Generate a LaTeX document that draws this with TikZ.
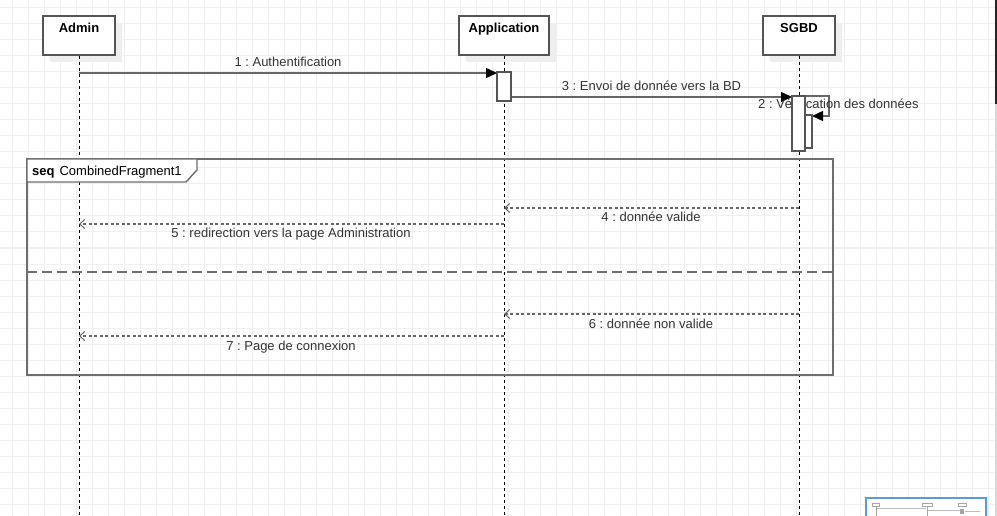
\documentclass[tikz,border=0pt]{standalone}
\usepackage{fontspec}
\setmainfont{Liberation Sans}
\usetikzlibrary{arrows.meta,calc}

\definecolor{gridc}{HTML}{EFEFEF}
\definecolor{linec}{HTML}{666666}
\definecolor{boxc}{HTML}{555555}
\definecolor{txtc}{HTML}{333333}
\definecolor{shadowc}{HTML}{EEEEEE}
\definecolor{fragc}{HTML}{6E6E6E}
\definecolor{mapc}{HTML}{5A9BE0}

\begin{document}
\frenchspacing
\begin{tikzpicture}[x=1pt,y=-1pt,
  font=\fontsize{13}{15}\selectfont,
  lifebox/.style={draw=boxc, line width=1.5pt, fill=white, minimum height=39pt, inner sep=0pt},
  lifeline/.style={black, line width=0.9pt, dash pattern=on 3pt off 3pt},
  actbox/.style={draw=boxc, line width=1.2pt, fill=white, inner sep=0pt},
  callmsg/.style={draw=linec, line width=1.4pt, -{Triangle[length=11pt,width=10pt,color=black,fill=black]}},
  retmsg/.style={draw=linec, line width=1.2pt, dash pattern=on 3pt off 2.5pt, -{Straight Barb[length=5pt,width=9pt,line width=1pt]}},
  msglbl/.style={text=txtc, anchor=base, inner sep=0pt},
  titlelbl/.style={text=black, font=\fontsize{13}{15}\selectfont\bfseries, anchor=base, inner sep=0pt},
  fragline/.style={draw=fragc, line width=1.8pt},
]
\useasboundingbox (0,0) rectangle (997,516);
\fill[white] (0,0) rectangle (997,516);

% background grid
\foreach \gx in {12,28,...,996} \draw[gridc, line width=1pt] (\gx,0) -- (\gx,516);
\foreach \gy in {8,24,...,516} \draw[gridc, line width=1pt] (0,\gy) -- (997,\gy);

% lifeline heads with their drop shadows
\foreach \nm/\cx/\hw in {admin/79/36, app/504/45, sgbd/799/36} {
  \fill[shadowc] (\cx-\hw+7,23) rectangle (\cx+\hw+7,62);
  \node[lifebox, minimum width=2*\hw pt] (\nm) at (\cx,35.5) {};
  \coordinate (\nm-end) at (\cx,516);
  \draw[lifeline] (\nm.south) -- (\nm-end);
}
\node[titlelbl] (tadmin) at (79,33) {Admin};
\node[titlelbl] (tapp) at (504,32.5) {Application};
\node[titlelbl] (tsgbd) at (799,33) {SGBD};

% combined fragment
\draw[fragline] (27,159) rectangle (833,375);
\draw[fragline, fill=white, line width=1.4pt] (27,159) -- (197,159) -- (197,170) -- (186,182) -- (27,182) -- cycle;
\node[anchor=base west, inner sep=0pt, text=black] (fragname) at (32,176) {\textbf{seq}\hspace{5pt}CombinedFragment1};
\coordinate (sepL) at (27,272);
\coordinate (sepR) at (833,272);
\draw[draw=fragc, line width=1.8pt, dash pattern=on 10pt off 5pt] (sepL) -- (sepR);

% message end points
\coordinate (m1a) at (79,73);   \coordinate (m1b) at (497,73);
\coordinate (m3a) at (511,97);  \coordinate (m3b) at (792,97);
\coordinate (m2a) at (805,96);  \coordinate (m2c1) at (829,96);
\coordinate (m2c2) at (829,116); \coordinate (m2b) at (812,116);
\coordinate (m4a) at (799,208); \coordinate (m4b) at (504,208);
\coordinate (m5a) at (504,224); \coordinate (m5b) at (79,224);
\coordinate (m6a) at (799,314); \coordinate (m6b) at (504,314);
\coordinate (m7a) at (504,336); \coordinate (m7b) at (79,336);

% messages
\draw[callmsg] (m1a) -- (m1b);
\draw[callmsg] (m3a) -- (m3b);
\draw[callmsg] (m2a) -- (m2c1) -- (m2c2) -- (m2b);
\draw[retmsg] (m4a) -- (m4b);
\draw[retmsg] (m5a) -- (m5b);
\draw[retmsg] (m6a) -- (m6b);
\draw[retmsg] (m7a) -- (m7b);

% message labels
\node[msglbl] (l1) at (288,66.5) {1 : Authentification};
\node[msglbl] (l3) at (651.5,90.5) {3 : Envoi de donnée vers la BD};
\node[msglbl, anchor=base west] (l2) at (758,109) {2 : Vérification des données};
\node[msglbl] (l4) at (651,222) {4 : donnée valide};
\node[msglbl] (l5) at (291,237) {5 : redirection vers la page Administration};
\node[msglbl] (l6) at (651,328.5) {6 : donnée non valide};
\node[msglbl] (l7) at (291,350) {7 : Page de connexion};

% activation bars
\node[actbox, minimum width=14pt, minimum height=29pt] (actapp) at (504,86.5) {};
\node[actbox, minimum width=13pt, minimum height=33pt] (actsgbd2) at (805.5,131.5) {};
\node[actbox, minimum width=13pt, minimum height=55pt] (actsgbd) at (798.5,123.5) {};

% overview pane and scroll bar
\fill[black!7] (868,500) rectangle (989,516);
\draw[mapc, line width=1.5pt, fill=white] (866,498) rectangle (986,518);
\draw[black!35, line width=0.5pt] (872,503) rectangle (879,506);
\draw[black!35, line width=0.5pt] (922,503) rectangle (932,506);
\draw[black!35, line width=0.5pt] (958,503) rectangle (966,506);
\draw[black!25, line width=0.5pt] (876,508.5) -- (926,508.5);
\draw[black!25, line width=0.5pt] (928,510.5) -- (960,510.5);
\draw[black!35, line width=0.8pt] (876,506) -- (876,516);
\draw[black!35, line width=0.8pt] (927,506) -- (927,516);
\fill[black!35] (960,509) rectangle (964,514);
\draw[black!25, line width=0.5pt] (965,511) -- (980,511);
\fill[black!85] (994.8,0) rectangle (997,104);
\fill[black!15] (995.3,104) rectangle (997,516);
\end{tikzpicture}
\end{document}
